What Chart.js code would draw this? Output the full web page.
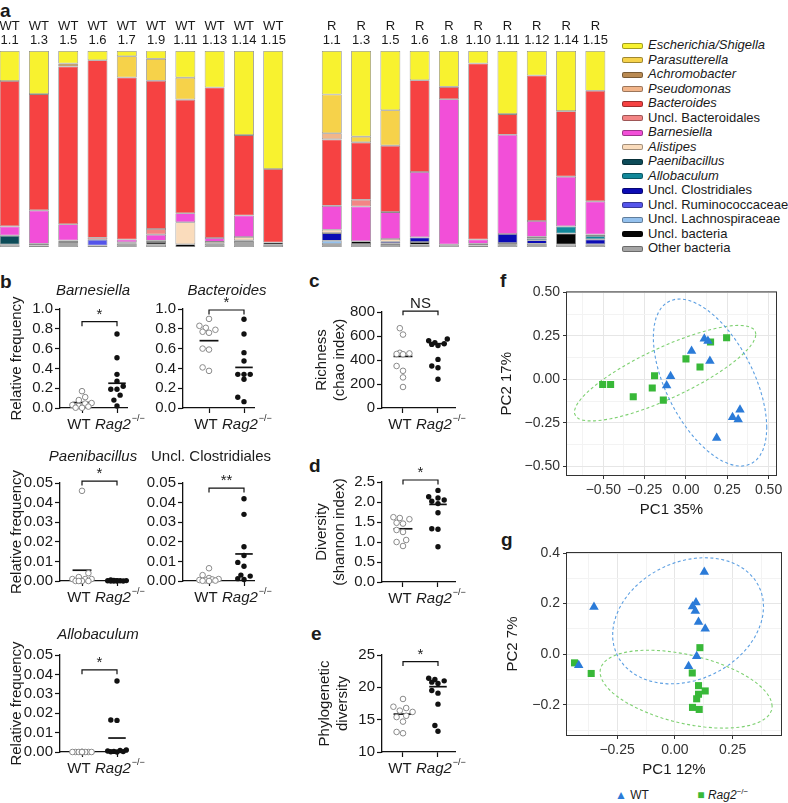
<!DOCTYPE html>
<html>
<head>
<meta charset="utf-8">
<script src="https://cdn.jsdelivr.net/npm/chart.js@4.4.1/dist/chart.umd.min.js"></script>
<style>
  body { margin: 0; background: #fff; }
  #fig { position: relative; width: 788px; height: 803px; overflow: hidden;
         font-family: 'Liberation Sans', Arial, sans-serif; color: #1a1a1a; }
  #fig canvas { position: absolute; }
  .lt { position: absolute; font-weight: bold; font-size: 19px; line-height: 19px; }
  #legA { position: absolute; left: 622px; top: 38px; font-size: 13px; }
  #legA div { height: 14.5px; line-height: 14.5px; white-space: nowrap; }
  #legA .sw { display: inline-block; width: 19px; height: 4px; border: 1px solid rgba(0,0,0,.35);
              border-radius: 2px; margin-right: 5px; vertical-align: middle; }
  #legG { position: absolute; left: 615px; top: 787px; font-size: 12px; white-space: nowrap; }
  #legG sup { font-size: 8px; }
</style>
</head>
<body>
<div id="fig">
  <div class="lt" style="left:0;top:1px">a</div>
  <div class="lt" style="left:0;top:272px">b</div>
  <div class="lt" style="left:309px;top:271px">c</div>
  <div class="lt" style="left:309px;top:456px">d</div>
  <div class="lt" style="left:311px;top:624px">e</div>
  <div class="lt" style="left:500px;top:271px">f</div>
  <div class="lt" style="left:501px;top:530px">g</div>
  <div id="legA"></div>
  <div id="legG">
    <span style="color:#2b7bd8">&#9650;</span> WT
    <span style="display:inline-block;width:42px"></span>
    <span style="color:#38b838">&#9632;</span> <i>Rag2</i><sup>&minus;/&minus;</sup>
  </div>
</div>
<script>
// ---- a: composition of each sample (fractions, in taxa order) ----
const taxa = ['Escherichia/Shigella', 'Parasutterella', 'Achromobacter', 'Pseudomonas', 'Bacteroides',
  'Uncl. Bacteroidales', 'Barnesiella', 'Alistipes', 'Paenibacillus', 'Allobaculum', 'Uncl. Clostridiales',
  'Uncl. Ruminococcaceae', 'Uncl. Lachnospiraceae', 'Uncl. bacteria', 'Other bacteria'];
const taxaItalic = [true, true, true, true, true, false, true, true, true, true, false, false, false, false, false];
const taxaColors = ['#f8f22f', '#f6d24a', '#b98a52', '#f2b58a', '#f64242', '#f38585', '#f24fd8', '#fadcbc',
  '#0d4b58', '#12889a', '#0b0bb4', '#5555ea', '#94c1ee', '#050505', '#a5a5a5'];
const wtSamples = ['1.1', '1.3', '1.5', '1.6', '1.7', '1.9', '1.11', '1.13', '1.14', '1.15'];
const rSamples = ['1.1', '1.3', '1.5', '1.6', '1.8', '1.10', '1.11', '1.12', '1.14', '1.15'];
const wtComposition = [
  [.153, 0, 0, 0, .742, 0, .047, 0, .046, 0, 0, 0, 0, 0, .012],
  [.220, 0, 0, 0, .593, 0, .171, 0, 0, 0, 0, 0, .008, 0, .008],
  [.064, 0, .015, 0, .805, 0, .083, 0, 0, 0, 0, 0, 0, .008, .025],
  [.047, 0, 0, 0, .906, .010, 0, 0, 0, 0, 0, .029, 0, 0, .008],
  [.027, .108, 0, 0, .827, 0, .014, .008, 0, 0, 0, 0, 0, 0, .016],
  [.041, .112, 0, 0, .756, .029, .031, 0, 0, 0, .006, 0, 0, .014, .012],
  [.136, .112, 0, 0, .580, 0, .046, .112, 0, 0, 0, 0, 0, .014, 0],
  [.186, 0, 0, 0, .768, 0, .020, .010, 0, 0, 0, 0, 0, 0, .016],
  [.429, 0, 0, 0, .410, 0, .110, .017, 0, 0, 0, 0, 0, .008, .026],
  [.602, 0, 0, 0, .375, 0, 0, 0, 0, 0, 0, 0, 0, .012, .011]
];
const rComposition = [
  [.222, .198, 0, .031, .339, 0, .122, .017, 0, 0, .039, 0, .017, 0, .015],
  [.437, .029, 0, 0, .293, .034, .178, 0, 0, 0, 0, 0, 0, .014, .015],
  [.302, .181, 0, 0, .339, 0, .137, .014, 0, 0, .010, 0, 0, .007, .010],
  [.149, 0, 0, 0, .468, 0, .334, 0, 0, 0, .024, 0, 0, .014, .011],
  [.183, 0, 0, 0, .063, 0, .742, 0, 0, 0, 0, 0, 0, 0, .012],
  [.064, 0, 0, 0, .898, 0, .022, 0, 0, 0, 0, 0, 0, .008, .008],
  [.322, 0, 0, 0, .105, 0, .507, 0, 0, 0, .046, 0, 0, 0, .020],
  [.125, 0, 0, 0, .742, 0, .081, .007, 0, .010, .019, 0, 0, 0, .016],
  [.307, 0, 0, 0, .334, 0, .254, 0, 0, .036, 0, 0, 0, .057, .012],
  [.203, 0, 0, 0, .564, 0, .169, .008, 0, .017, .025, 0, 0, 0, .014]
];

// ---- b-e: dot plots (WT, Rag2-/-), line = centre line, bracket height ----
const barnesiellaWT = [0.17, 0.11, 0.08, 0.05, 0.045, 0.03, 0.02, 0.014, 0.003, 0.002];
const barnesiellaRag = [0.747, 0.508, 0.34, 0.27, 0.22, 0.19, 0.19, 0.13, 0.08, 0.02];
const barnesiellaLine = [0.055, 0.25];
const bacteroidesWT = [0.90, 0.83, 0.81, 0.79, 0.77, 0.76, 0.60, 0.59, 0.41, 0.375];
const bacteroidesRag = [0.896, 0.747, 0.559, 0.475, 0.34, 0.34, 0.34, 0.29, 0.108, 0.064];
const bacteroidesLine = [0.68, 0.41];
const paenibacillusWT = [0.046, 0.004, 0.002, 0.001, 0.001, 0.001, 0, 0, 0, 0];
const paenibacillusRag = [0.0005, 0.0003, 0.0002, 0.0002, 0.0001, 0.0001, 0, 0, 0, 0];
const paenibacillusLine = [0.0055, 0.0002];
const clostridialesWT = [0.0065, 0.003, 0.0015, 0.001, 0.0008, 0.0005, 0.0003, 0.0002, 0.0001, 0];
const clostridialesRag = [0.042, 0.034, 0.0175, 0.013, 0.0095, 0.0075, 0.003, 0.0025, 0.0012, 0.0008];
const clostridialesLine = [0.0012, 0.0138];
const allobaculumWT = [0, 0, 0, 0, 0, 0, 0, 0, 0, 0];
const allobaculumRag = [0.0366, 0.0165, 0.0163, 0.001, 0.0008, 0.0005, 0.0003, 0.0002, 0.0001, 0];
const allobaculumLine = [0.0001, 0.0072];
const richnessWT = [665, 612, 460, 455, 450, 448, 350, 310, 255, 175];
const richnessRag = [575, 560, 545, 535, 530, 520, 405, 350, 335, 240];
const richnessLine = [430, 536];
const shannonWT = [1.62, 1.60, 1.57, 1.48, 1.46, 1.30, 1.25, 1.05, 1.00, 0.90];
const shannonRag = [2.29, 2.13, 2.10, 2.05, 2.02, 1.96, 1.73, 1.33, 1.32, 0.88];
const shannonLine = [1.33, 1.94];
const phyloWT = [18.2, 17.0, 16.8, 16.4, 16.2, 15.6, 15.4, 14.7, 13.1, 12.9];
const phyloRag = [21.4, 21.2, 21.0, 20.8, 20.6, 19.5, 19.1, 17.4, 14.1, 13.2];
const phyloLine = [15.86, 20.1];

// ---- f, g: PCA coordinates ----
const fWTpc1 = [-0.093, -0.117, 0.034, 0.111, 0.133, 0.145, 0.327, 0.282, 0.316, 0.186];
const fWTpc2 = [0.017, -0.036, 0.162, 0.233, 0.220, 0.105, -0.175, -0.218, -0.231, -0.337];
const fRagpc1 = [-0.504, -0.456, -0.319, -0.190, -0.204, -0.137, 0.000, 0.085, 0.149, 0.246];
const fRagpc2 = [-0.030, -0.030, -0.100, 0.020, -0.050, -0.120, 0.117, 0.070, 0.214, 0.239];
const gWTpc1 = [0.127, -0.350, 0.091, 0.076, 0.088, 0.102, 0.131, 0.094, 0.059, -0.416];
const gWTpc2 = [0.325, 0.187, 0.204, 0.189, 0.171, 0.127, 0.101, -0.008, -0.047, -0.043];
const gRagpc1 = [-0.434, -0.362, 0.108, 0.075, 0.102, 0.131, 0.102, 0.094, 0.076, 0.105];
const gRagpc2 = [-0.034, -0.076, 0.026, -0.074, -0.124, -0.145, -0.158, -0.176, -0.210, -0.218];
const ellipseLevel = 0.9;

Chart.defaults.font.family = "'Liberation Sans', Arial, sans-serif";
Chart.defaults.color = '#1a1a1a';
const FONT = "'Liberation Sans', Arial, sans-serif";
const fig = document.getElementById('fig');

function addCanvas(left, top, w, h) {
  const c = document.createElement('canvas');
  c.width = w; c.height = h;
  c.style.left = left + 'px'; c.style.top = top + 'px';
  c.style.width = w + 'px'; c.style.height = h + 'px';
  fig.appendChild(c);
  return c;
}

// ---------- panel a ----------
const labelsA = wtSamples.map(s => ['WT', s]).concat([['', '']], rSamples.map(s => ['R', s]));
const rowsA = wtComposition.concat([null], rComposition);
const datasetsA = taxa.map((name, k) => ({
  label: name,
  data: rowsA.map(r => (r && r[k] > 0) ? r[k] : null),
  backgroundColor: taxaColors[k],
  borderColor: 'rgba(45,45,45,0.55)',
  borderWidth: 0.8,
  borderSkipped: false,
  barPercentage: 0.68,
  categoryPercentage: 1
})).reverse();

// two-line sample labels above the bars, placed on the category scale
const sampleLabels = {
  id: 'sampleLabels',
  afterDraw(chart) {
    const ctx = chart.ctx, xs = chart.scales.x;
    ctx.save();
    ctx.font = '13px ' + FONT;
    ctx.fillStyle = '#1a1a1a';
    ctx.textAlign = 'center';
    ctx.textBaseline = 'middle';
    labelsA.forEach((lines, i) => {
      const x = xs.getPixelForTick(i);
      ctx.fillText(lines[0], x, 26);
      ctx.fillText(lines[1], x, 40.5);
    });
    ctx.restore();
  }
};

new Chart(addCanvas(-5, 0, 615, 250), {
  type: 'bar',
  data: { labels: labelsA, datasets: datasetsA },
  options: {
    responsive: false, animation: false,
    layout: { padding: { bottom: 3 } },
    plugins: { legend: { display: false }, tooltip: { enabled: false } },
    scales: {
      x: {
        position: 'top', stacked: true,
        grid: { display: false, drawTicks: false }, border: { display: false },
        ticks: { display: false },
        afterFit: s => { s.height = 51; }
      },
      y: { display: false, stacked: true, min: 0, max: 1 }
    }
  },
  plugins: [sampleLabels]
});

const legA = document.getElementById('legA');
taxa.forEach((name, k) => {
  const row = document.createElement('div');
  row.innerHTML = '<span class="sw" style="background:' + taxaColors[k] + '"></span>' +
    (taxaItalic[k] ? '<i>' + name + '</i>' : name);
  legA.appendChild(row);
});

// ---------- dot plots ----------
// spread points of one group sideways so they do not pile up (kept within +-maxOff px)
function swarm(chart, dsIndex, center, r, maxOff) {
  const xs = chart.scales.x, ys = chart.scales.y;
  const ds = chart.data.datasets[dsIndex];
  const cx = xs.getPixelForValue(center);
  const pts = ds.data.map((p, i) => ({ i, py: ys.getPixelForValue(p.y) }));
  pts.sort((a, b) => b.py - a.py);
  const placed = [];
  const d = 2 * r + 0.8;
  const step = d / 2;
  pts.forEach(p => {
    let best = 0, bestGap = -1;
    for (let k = 0; ; k++) {
      const off = k === 0 ? 0 : (k % 2 ? -1 : 1) * Math.ceil(k / 2) * step;
      if (Math.abs(off) > maxOff) break;
      const gap = placed.reduce((m, q) => Math.min(m, Math.hypot(q.px - (cx + off), q.py - p.py)), 1e9);
      if (gap >= d) { best = off; bestGap = gap; break; }
      if (gap > bestGap) { best = off; bestGap = gap; }
    }
    placed.push({ px: cx + best, py: p.py });
    ds.data[p.i].x = xs.getValueForPixel(cx + best);
  });
}

function dotPlot(p) {
  const [bl, bt, bw, bh] = p.box;
  const [al, at, ar, ab] = p.area;
  const canvas = addCanvas(bl, bt, bw, bh);
  const yTicks = [];
  for (let v = p.yMin; v <= p.yMax + 1e-9; v += p.yStep) yTicks.push(+v.toFixed(6));
  const drop = (p.yMax - p.yMin) * 0.045;
  const textPlugin = {
    id: 'panelText',
    afterDraw(chart) {
      const ctx = chart.ctx, xs = chart.scales.x, ys = chart.scales.y, a = chart.chartArea;
      ctx.save();
      ctx.fillStyle = '#1a1a1a';
      ctx.textAlign = 'center';
      ctx.textBaseline = 'middle';
      if (p.title) {
        ctx.font = (p.italic ? 'italic ' : '') + '15px ' + FONT;
        ctx.fillText(p.title, p.titleX - bl, p.titleY - bt);
      }
      const ly = a.bottom + 17;
      ctx.font = '15px ' + FONT;
      ctx.fillText('WT', xs.getPixelForValue(1) - 3, ly);
      ctx.textAlign = 'left';
      const x0 = xs.getPixelForValue(2) - 22;
      ctx.font = 'italic 15px ' + FONT;
      const w1 = ctx.measureText('Rag2').width;
      ctx.fillText('Rag2', x0, ly);
      ctx.font = '9px ' + FONT;
      ctx.fillText('\u2212/\u2212', x0 + w1 + 1, ly - 6);
      ctx.textAlign = 'center';
      ctx.textBaseline = 'alphabetic';
      ctx.font = '15px ' + FONT;
      ctx.fillText(p.sig, xs.getPixelForValue(1.5), ys.getPixelForValue(p.bracket) - 3);
      ctx.restore();
    }
  };
  const lineStyle = { type: 'line', borderColor: '#111', pointRadius: 0, fill: false, tension: 0, clip: false };
  const chart = new Chart(canvas, {
    type: 'scatter',
    data: {
      datasets: [
        { data: p.wt.map(v => ({ x: 1, y: v })), pointRadius: 2.8, borderWidth: 1,
          borderColor: '#8a8a8a', backgroundColor: '#fff', clip: false },
        { data: p.rag.map(v => ({ x: 2, y: v })), pointRadius: 2.7, borderWidth: 0,
          backgroundColor: '#111', clip: false },
        Object.assign({ data: [{ x: 0.73, y: p.line[0] }, { x: 1.27, y: p.line[0] }], borderWidth: 1.7 }, lineStyle),
        Object.assign({ data: [{ x: 1.75, y: p.line[1] }, { x: 2.25, y: p.line[1] }], borderWidth: 1.7 }, lineStyle),
        Object.assign({ data: [{ x: 1, y: p.bracket - drop }, { x: 1, y: p.bracket },
          { x: 2, y: p.bracket }, { x: 2, y: p.bracket - drop }], borderWidth: 1.2 }, lineStyle)
      ]
    },
    options: {
      responsive: false, animation: false,
      layout: { padding: { top: at - bt, right: bl + bw - ar, left: 0, bottom: 0 } },
      plugins: { legend: { display: false }, tooltip: { enabled: false } },
      scales: {
        x: {
          type: 'linear', min: p.xMin, max: p.xMax,
          afterBuildTicks: s => { s.ticks = [{ value: 1 }, { value: 2 }]; },
          afterFit: s => { s.height = bt + bh - ab; },
          ticks: { callback: () => '', autoSkip: false },
          grid: { drawOnChartArea: false, tickLength: 5, color: '#111', tickColor: '#111', tickWidth: 1.2 },
          border: { color: '#111', width: 1.3 }
        },
        y: {
          min: p.yMin, max: p.yMax,
          afterBuildTicks: s => { s.ticks = yTicks.map(v => ({ value: v })); },
          afterFit: s => { s.width = al - bl; },
          ticks: { callback: v => v.toFixed(p.dec), font: { size: 15 }, color: '#1a1a1a', padding: 2, autoSkip: false },
          grid: { drawOnChartArea: false, tickLength: 5, color: '#111', tickColor: '#111', tickWidth: 1.2 },
          border: { color: '#111', width: 1.3 },
          title: { display: !!p.yTitle, text: p.yTitle, font: { size: 15 }, color: '#1a1a1a',
                   padding: { top: p.yTitlePad || 0, bottom: 0 } }
        }
      }
    },
    plugins: [textPlugin]
  });
  swarm(chart, 0, 1, 2.8, 11);
  swarm(chart, 1, 2, 2.7, 11);
  chart.update('none');
}

const xLeftCol = [0.3714, 2.2857], xRightCol = [0.257, 2.2857], xMid = [0.4, 2.486];

dotPlot({ box: [0, 280, 150, 155], area: [60, 309, 127, 408], xMin: xLeftCol[0], xMax: xLeftCol[1],
  yMin: 0, yMax: 1, yStep: 0.2, dec: 1, wt: barnesiellaWT, rag: barnesiellaRag, line: barnesiellaLine,
  bracket: 0.872, sig: '*', title: 'Barnesiella', italic: true, titleX: 93, titleY: 291,
  yTitle: 'Relative frequency', yTitlePad: 8 });
dotPlot({ box: [135, 280, 140, 155], area: [183, 309, 254, 408], xMin: xRightCol[0], xMax: xRightCol[1],
  yMin: 0, yMax: 1, yStep: 0.2, dec: 1, wt: bacteroidesWT, rag: bacteroidesRag, line: bacteroidesLine,
  bracket: 0.99, sig: '*', title: 'Bacteroides', italic: true, titleX: 227, titleY: 291 });
dotPlot({ box: [0, 445, 150, 162], area: [60, 483, 127, 581], xMin: xLeftCol[0], xMax: xLeftCol[1],
  yMin: 0, yMax: 0.05, yStep: 0.01, dec: 2, wt: paenibacillusWT, rag: paenibacillusRag, line: paenibacillusLine,
  bracket: 0.051, sig: '*', title: 'Paenibacillus', italic: true, titleX: 93, titleY: 457,
  yTitle: 'Relative frequency', yTitlePad: 8 });
dotPlot({ box: [135, 445, 140, 162], area: [183, 483, 254, 581], xMin: xRightCol[0], xMax: xRightCol[1],
  yMin: 0, yMax: 0.05, yStep: 0.01, dec: 2, wt: clostridialesWT, rag: clostridialesRag, line: clostridialesLine,
  bracket: 0.0474, sig: '**', title: 'Uncl. Clostridiales', italic: false, titleX: 211, titleY: 457 });
dotPlot({ box: [0, 620, 150, 160], area: [60, 655, 127, 752], xMin: xLeftCol[0], xMax: xLeftCol[1],
  yMin: 0, yMax: 0.05, yStep: 0.01, dec: 2, wt: allobaculumWT, rag: allobaculumRag, line: allobaculumLine,
  bracket: 0.0423, sig: '*', title: 'Allobaculum', italic: true, titleX: 98, titleY: 635,
  yTitle: 'Relative frequency', yTitlePad: 8 });
dotPlot({ box: [310, 290, 165, 145], area: [382, 312, 455, 408], xMin: xMid[0], xMax: xMid[1],
  yMin: 0, yMax: 800, yStep: 200, dec: 0, wt: richnessWT, rag: richnessRag, line: richnessLine,
  bracket: 808, sig: 'NS', yTitle: ['Richness', '(chao index)'], yTitlePad: 3 });
dotPlot({ box: [310, 460, 165, 147], area: [382, 482, 455, 582], xMin: xMid[0], xMax: xMid[1],
  yMin: 0, yMax: 2.5, yStep: 0.5, dec: 1, wt: shannonWT, rag: shannonRag, line: shannonLine,
  bracket: 2.55, sig: '*', yTitle: ['Diversity', '(shannon index)'], yTitlePad: 3 });
dotPlot({ box: [310, 635, 165, 145], area: [382, 655, 455, 752], xMin: xMid[0], xMax: xMid[1],
  yMin: 10, yMax: 25, yStep: 5, dec: 0, wt: phyloWT, rag: phyloRag, line: phyloLine,
  bracket: 23.97, sig: '*', yTitle: ['Phylogenetic', 'diversity'], yTitlePad: 6 });

// ---------- PCA plots ----------
function sum(a) { return a.reduce((s, v) => s + v, 0); }

// confidence ellipse from a robust multivariate t fit (as ggplot2::stat_ellipse does)
function tEllipse(xs, ys) {
  const n = xs.length, p = 2, nu = 5;
  let lx = sum(xs) / n, ly = sum(ys) / n;
  let w = xs.map(() => 1), dx = [], dy = [];
  for (let it = 0; it < 25; it++) {
    const w0 = w.slice();
    dx = xs.map(v => v - lx); dy = ys.map(v => v - ly);
    const sw = sum(w);
    let a = 0, b = 0, c = 0;
    for (let i = 0; i < n; i++) {
      a += w[i] * dx[i] * dx[i] / sw; b += w[i] * dx[i] * dy[i] / sw; c += w[i] * dy[i] * dy[i] / sw;
    }
    const det = a * c - b * b;
    w = dx.map((_, i) => (nu + p) / (nu + (c * dx[i] * dx[i] - 2 * b * dx[i] * dy[i] + a * dy[i] * dy[i]) / det));
    const sw2 = sum(w);
    lx = sum(xs.map((v, i) => w[i] * v)) / sw2;
    ly = sum(ys.map((v, i) => w[i] * v)) / sw2;
    if (w.every((v, i) => Math.abs(v - w0[i]) < 0.01)) break;
  }
  let a = 0, b = 0, c = 0;
  for (let i = 0; i < n; i++) {
    a += w[i] * dx[i] * dx[i] / n; b += w[i] * dx[i] * dy[i] / n; c += w[i] * dy[i] * dy[i] / n;
  }
  const df2 = n - 1;
  const fq = df2 / 2 * (Math.pow(1 - ellipseLevel, -2 / df2) - 1);
  const rad = Math.sqrt(2 * fq);
  const r11 = Math.sqrt(a), r12 = b / r11, r22 = Math.sqrt(c - r12 * r12);
  const pts = [];
  for (let k = 0; k <= 51; k++) {
    const t = 2 * Math.PI * k / 51;
    pts.push({ x: lx + rad * Math.cos(t) * r11, y: ly + rad * (Math.cos(t) * r12 + Math.sin(t) * r22) });
  }
  return pts;
}

const frame = {
  id: 'frame',
  beforeDatasetsDraw(chart) {
    const a = chart.chartArea, c = chart.ctx;
    c.save(); c.strokeStyle = '#333'; c.lineWidth = 1;
    c.strokeRect(a.left + 0.5, a.top + 0.5, a.width - 1, a.height - 1);
    c.restore();
  }
};

function fmt(v, dec) { return (v < -1e-9 ? '\u2212' : '') + Math.abs(v).toFixed(dec); }

function pcaAxis(min, max, major, minor, dec, title, titlePad, fit) {
  const key = v => Math.round(v * 1000);
  const majSet = new Set(major.map(key));
  return {
    type: 'linear', min, max,
    afterBuildTicks: s => { s.ticks = major.concat(minor).sort((u, v) => u - v).map(v => ({ value: v })); },
    afterFit: fit,
    ticks: { autoSkip: false, maxRotation: 0, font: { size: 14 }, color: '#333', padding: 3,
             callback: v => majSet.has(key(v)) ? fmt(v, dec) : '' },
    grid: {
      color: c => majSet.has(key(c.tick.value)) ? '#e6e6e6' : '#f3f3f3',
      tickColor: c => majSet.has(key(c.tick.value)) ? '#333' : 'rgba(0,0,0,0)',
      tickLength: 3, lineWidth: 1
    },
    border: { display: false },
    title: { display: true, text: title, font: { size: 15 }, color: '#1a1a1a', padding: titlePad }
  };
}

function pcaPlot(p) {
  const [bl, bt, bw, bh] = p.box;
  const [al, at, ar, ab] = p.area;
  const zip = (xs, ys) => xs.map((x, i) => ({ x, y: ys[i] }));
  new Chart(addCanvas(bl, bt, bw, bh), {
    type: 'scatter',
    data: {
      datasets: [
        { data: zip(p.wtX, p.wtY), pointStyle: 'triangle', pointRadius: 5.5, borderWidth: 0,
          backgroundColor: '#2b7bd8' },
        { data: zip(p.ragX, p.ragY), pointStyle: 'rect', pointRadius: 5, borderWidth: 0,
          backgroundColor: '#38b838' },
        { type: 'line', data: tEllipse(p.wtX, p.wtY), borderColor: '#5c9fe2', borderWidth: 1.1,
          borderDash: [3, 2.5], pointRadius: 0, fill: false, tension: 0 },
        { type: 'line', data: tEllipse(p.ragX, p.ragY), borderColor: '#7fd172', borderWidth: 1.1,
          borderDash: [3, 2.5], pointRadius: 0, fill: false, tension: 0 }
      ]
    },
    options: {
      responsive: false, animation: false,
      layout: { padding: { top: at - bt, right: bl + bw - ar, left: 0, bottom: 0 } },
      plugins: { legend: { display: false }, tooltip: { enabled: false } },
      scales: {
        x: pcaAxis(p.xMin, p.xMax, p.xMajor, p.xMinor, 2, p.xTitle, { top: 0, bottom: p.xTitlePad },
                   s => { s.height = bt + bh - ab; }),
        y: pcaAxis(p.yMin, p.yMax, p.yMajor, p.yMinor, p.yDec, p.yTitle, { top: p.yTitlePad, bottom: 0 },
                   s => { s.width = al - bl; })
      }
    },
    plugins: [frame]
  });
}

pcaPlot({ box: [490, 280, 298, 250], area: [566, 289, 777, 476],
  xMin: -0.726, xMax: 0.551, yMin: -0.556, yMax: 0.505,
  xMajor: [-0.5, -0.25, 0, 0.25, 0.5], xMinor: [-0.625, -0.375, -0.125, 0.125, 0.375],
  yMajor: [-0.5, -0.25, 0, 0.25, 0.5], yMinor: [-0.375, -0.125, 0.125, 0.375], yDec: 2,
  xTitle: 'PC1 35%', xTitlePad: 11, yTitle: 'PC2 17%', yTitlePad: 8,
  wtX: fWTpc1, wtY: fWTpc2, ragX: fRagpc1, ragY: fRagpc2 });
pcaPlot({ box: [490, 540, 298, 240], area: [566, 552, 782, 736],
  xMin: -0.471, xMax: 0.463, yMin: -0.323, yMax: 0.404,
  xMajor: [-0.25, 0, 0.25], xMinor: [-0.375, -0.125, 0.125, 0.375],
  yMajor: [-0.2, 0, 0.2, 0.4], yMinor: [-0.3, -0.1, 0.1, 0.3], yDec: 1,
  xTitle: 'PC1 12%', xTitlePad: 1, yTitle: 'PC2 7%', yTitlePad: 14,
  wtX: gWTpc1, wtY: gWTpc2, ragX: gRagpc1, ragY: gRagpc2 });
</script>
</body>
</html>
